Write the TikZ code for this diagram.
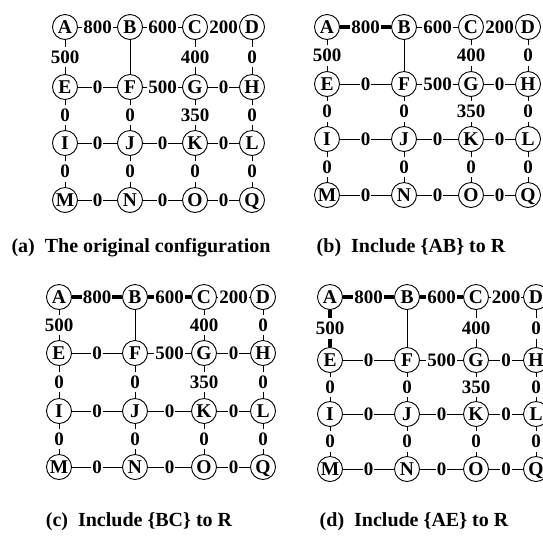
\documentclass[tikz,border=0pt]{standalone}
\usepackage{fontspec}
\setmainfont{Liberation Serif}
\newcommand\gridnodes[9]{%
  \node[vtx] (#1A) at (#2,#6) {A};
  \node[vtx] (#1B) at (#3,#6) {B};
  \node[vtx] (#1C) at (#4,#6) {C};
  \node[vtx] (#1D) at (#5,#6) {D};
  \node[vtx] (#1E) at (#2,#7) {E};
  \node[vtx] (#1F) at (#3,#7) {F};
  \node[vtx] (#1G) at (#4,#7) {G};
  \node[vtx] (#1H) at (#5,#7) {H};
  \node[vtx] (#1I) at (#2,#8) {I};
  \node[vtx] (#1J) at (#3,#8) {J};
  \node[vtx] (#1K) at (#4,#8) {K};
  \node[vtx] (#1L) at (#5,#8) {L};
  \node[vtx] (#1M) at (#2,#9) {M};
  \node[vtx] (#1N) at (#3,#9) {N};
  \node[vtx] (#1O) at (#4,#9) {O};
  \node[vtx] (#1Q) at (#5,#9) {Q};
}
\newcommand\gridedges[1]{%
  \foreach \u/\v/\w in {A/B/800,B/C/600,C/D/200,E/F/0,F/G/500,G/H/0,I/J/0,J/K/0,K/L/0,M/N/0,N/O/0,O/Q/0,A/E/500,C/G/400,D/H/0,E/I/0,F/J/0,G/K/350,H/L/0,I/M/0,J/N/0,K/O/0,L/Q/0}
    {\draw[edg] (#1\u) -- node[wt]{\w} (#1\v);}
  \draw[edg] (#1B) -- (#1F);
}
\begin{document}
\begin{tikzpicture}[x=1pt,y=-1pt,
  vtx/.style={circle,draw,fill=white,line width=0.9pt,minimum size=25pt,inner sep=0pt,
    text height=13pt,text depth=0pt,font=\fontsize{19.5}{19.5}\selectfont\bfseries},
  wt/.style={fill=white,inner xsep=0.8pt,inner ysep=4pt,font=\fontsize{19}{19}\selectfont\bfseries},
  edg/.style={line width=0.9pt},
  heavy/.style={line width=4.5pt},
  captxt/.style={anchor=base,inner sep=0pt,font=\fontsize{20}{20}\selectfont\bfseries}]
\useasboundingbox (0,0) rectangle (543,542);
% (a)
\gridnodes{a}{65}{130}{195}{252}{27}{87}{143}{200}
\gridedges{a}
% (b)
\gridnodes{b}{327}{404}{471}{528}{27}{84}{139}{195}
\draw[heavy] (bA) -- (bB);
\gridedges{b}
% (c)
\gridnodes{c}{59}{135}{204}{263}{297}{353}{411}{467}
\draw[heavy] (cA) -- (cB);
\draw[heavy] (cB) -- (cC);
\gridedges{c}
% (d)
\gridnodes{d}{330}{407}{476}{536}{297}{360}{414}{469}
\draw[heavy] (dA) -- (dB);
\draw[heavy] (dB) -- (dC);
\draw[heavy] (dA) -- (dE);
\gridedges{d}
% captions
\node[captxt] (capa) at (141,252) {(a)\hspace{0.5em}The original configuration};
\node[captxt] (capb) at (411,252) {(b)\hspace{0.5em}Include \{AB\} to R};
\node[captxt] (capc) at (139,526) {(c)\hspace{0.5em}Include \{BC\} to R};
\node[captxt] (capd) at (414,526) {(d)\hspace{0.5em}Include \{AE\} to R};
\end{tikzpicture}
\end{document}
